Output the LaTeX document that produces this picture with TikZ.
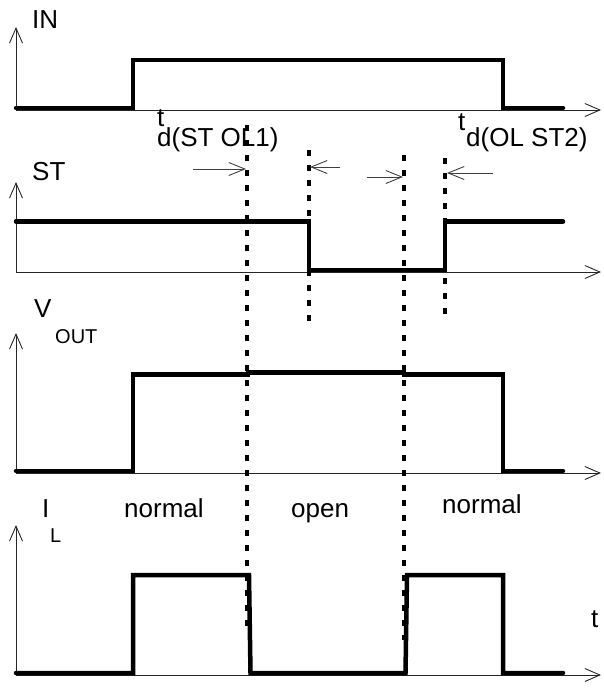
\documentclass[tikz,border=0pt]{standalone}
\usepackage{fontspec}
\setmainfont{Liberation Sans}
\usetikzlibrary{arrows.meta}
\begin{document}
\begin{tikzpicture}[x=1pt,y=-1pt,
  sig/.style={line width=4.5pt, line cap=round, line join=miter},
  axisline/.style={line width=0.9pt, black!85, -{Straight Barb[length=15pt,width=13pt,line width=0.9pt]}},
  dotline/.style={line width=3.2pt, dash pattern=on 6pt off 9pt},
  lab/.style={anchor=base west, inner sep=0pt, font=\fontsize{26}{30}\selectfont},
  sublab/.style={anchor=base west, inner sep=0pt, font=\fontsize{20}{24}\selectfont},
  marr/.style={line width=0.9pt, black!75, -{Straight Barb[length=16pt,width=13pt,line width=0.9pt]}}]
\useasboundingbox (0,0) rectangle (603,691);

% axes
\draw[axisline] (16,110) -- (16,27);
\draw[axisline] (16,110) -- (601,110);
\draw[axisline] (16,272) -- (16,182);
\draw[axisline] (16,272) -- (601,272);
\draw[axisline] (16,473) -- (16,333);
\draw[axisline] (16,473) -- (601,473);
\draw[axisline] (16,675) -- (16,525);
\draw[axisline] (16,675) -- (601,675);

% dotted markers
\draw[dotline] (247,125) -- (247,632);
\draw[dotline] (309,150) -- (309,322);
\draw[dotline] (404,155) -- (404,640);
\draw[dotline] (445,158) -- (445,318);

% signals
\draw[sig] (16,108) -- (133,108) -- (133,60) -- (503,60) -- (503,108) -- (563,108);
\draw[sig] (16,221.5) -- (309,221.5) -- (309,270) -- (445,270) -- (445,221.5) -- (563,221.5);
\draw[sig] (16,471) -- (133,471) -- (133,374.5) -- (248,374.5) -- (248,372.5) -- (404,372.5) -- (404,374.5) -- (503,374.5) -- (503,471) -- (563,471);
\draw[sig] (16,673) -- (133,673) -- (133,575) -- (249,575) -- (250.5,673) -- (405.5,673) -- (407,575) -- (503,575) -- (503,673) -- (563,673);

% delay arrows
\coordinate (a1s) at (193,169); \coordinate (a1e) at (246,169);
\coordinate (a2s) at (340,167); \coordinate (a2e) at (310,167);
\coordinate (a3s) at (367,177); \coordinate (a3e) at (403,177);
\coordinate (a4s) at (493,173); \coordinate (a4e) at (447,173);
\draw[marr] (a1s) -- (a1e);
\draw[marr] (a2s) -- (a2e);
\draw[marr] (a3s) -- (a3e);
\draw[marr] (a4s) -- (a4e);

% labels
\node[lab] (in) at (32,28) {IN};
\node[lab] (st) at (32,180) {ST};
\node[lab] (v) at (34,317) {V};
\node[sublab] (vout) at (55,343) {OUT};
\node[lab] (i) at (42,517) {I};
\node[sublab] (il) at (50,542) {L};
\node[lab] (t1) at (157,126) {t};
\node[lab] (d1) at (157,146) {d(ST OL1)};
\node[lab] (t2) at (458,130) {t};
\node[lab] (d2) at (466,146) {d(OL ST2)};
\node[lab] (n1) at (124,517) {normal};
\node[lab] (op) at (291,517) {open};
\node[lab] (n2) at (442,513) {normal};
\node[lab] (tt) at (591,627) {t};
\end{tikzpicture}
\end{document}
